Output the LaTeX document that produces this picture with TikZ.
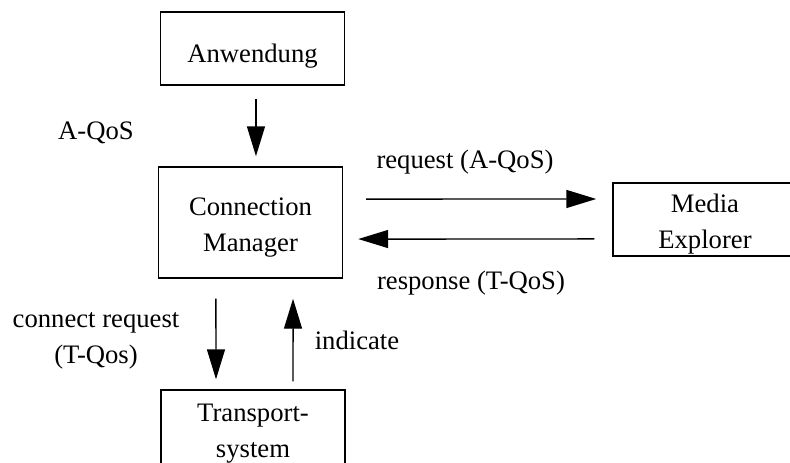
\documentclass[tikz,border=0pt]{standalone}
\usepackage{fontspec}
\setmainfont{Liberation Serif}
\usetikzlibrary{arrows.meta}
% invisible strut that lowers the text inside a box
\newcommand{\lowr}[1]{\rule{0pt}{#1}}
\begin{document}
\begin{tikzpicture}[x=0.75pt,y=-0.75pt,
  every node/.style={font=\fontsize{20}{27}\selectfont, inner sep=0pt},
  box/.style={draw, line width=1.1pt, align=center, minimum width=138pt},
  lbl/.style={align=center},
  arr/.style={line width=1.1pt, -{Triangle[length=22.5pt,width=13.5pt]}}]
  \useasboundingbox (0,0) rectangle (790,462);
  \clip (0,0) rectangle (790,462);

  % boxes
  \node[box, minimum height=54.75pt] (anw) at (252.5,48.5) {\lowr{25pt}Anwendung};
  \node[box, minimum height=83.25pt] (cm) at (250.5,222.5) {\lowr{21pt}Connection\\Manager};
  \node[box, minimum height=54.75pt] (media) at (705,219.5) {\lowr{20pt}Media\\Explorer};
  \node[box, minimum height=60pt] (trans) at (253,430) {\lowr{18pt}Transport-\\system};

  % labels
  \node[lbl] (aqos) at (96,133) {A-QoS};
  \node[lbl] (req) at (465,162) {request (A-QoS)};
  \node[lbl] (resp) at (471,283) {response (T-QoS)};
  \node[lbl] (conn) at (96,341) {connect request\\(T-Qos)};
  \node[lbl] (ind) at (357,340) {indicate};

  % connectors
  \draw[arr, shorten <=9.75pt, shorten >=7.5pt]
    ([xshift=2.6pt]anw.south) -- ([xshift=4.1pt]cm.north);
  \draw[arr, shorten <=17.25pt, shorten >=12pt]
    ([yshift=17.6pt]cm.east) -- ([yshift=15.4pt]media.west);
  \draw[arr, shorten <=13.5pt, shorten >=11.25pt]
    ([yshift=-14.6pt]media.west) -- ([yshift=-12.4pt]cm.east);
  \draw[arr, shorten <=15pt, shorten >=7.5pt]
    ([xshift=-25.9pt]cm.south) -- ([xshift=-27.75pt]trans.north);
  \draw[arr, shorten <=6pt, shorten >=15pt]
    ([xshift=30pt]trans.north) -- ([xshift=31.9pt]cm.south);
\end{tikzpicture}
\end{document}
